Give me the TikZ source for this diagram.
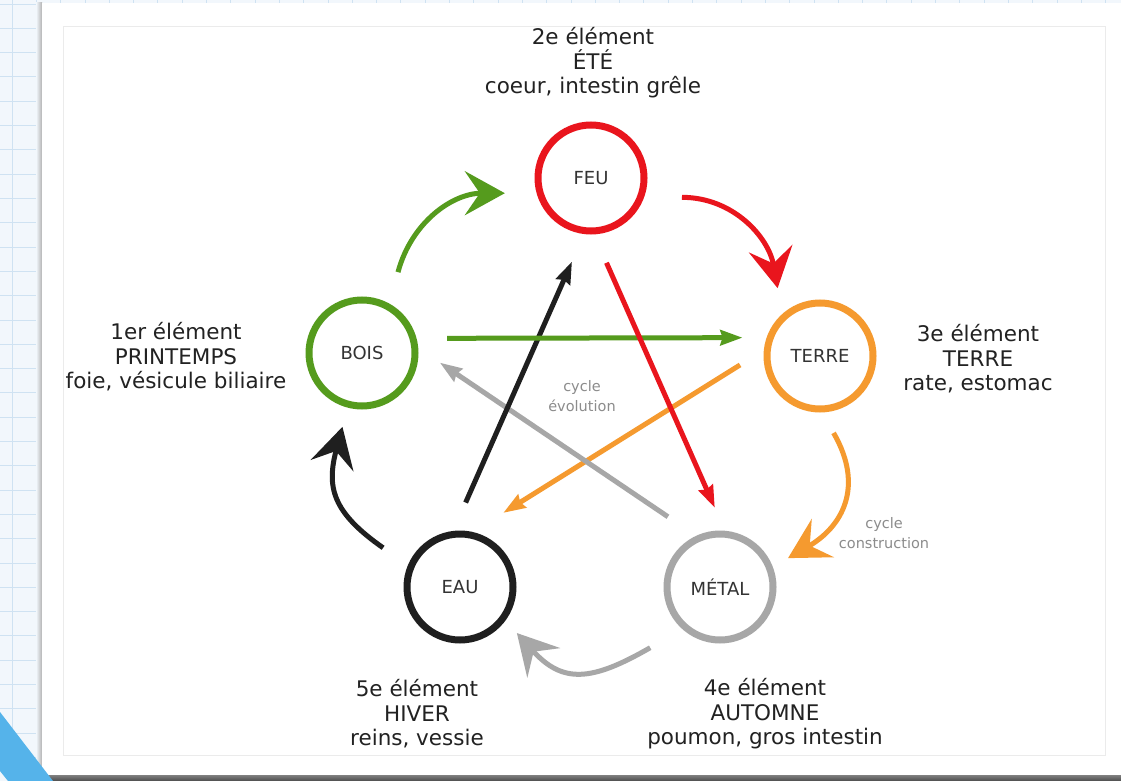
\documentclass[tikz,border=0pt]{standalone}
\usepackage{fontspec}
\setmainfont{DejaVu Sans}
\usetikzlibrary{arrows.meta,calc,positioning}

\definecolor{boisgreen}{HTML}{559B1D}
\definecolor{feured}{HTML}{E9151D}
\definecolor{terreorange}{HTML}{F59A2F}
\definecolor{metalgray}{HTML}{A7A7A7}
\definecolor{eaublack}{HTML}{1F1F1F}
\definecolor{gridbg}{HTML}{F2F7FC}
\definecolor{gridblue}{HTML}{CFE2F2}
\definecolor{cornerblue}{HTML}{55B3EA}
\definecolor{labelgray}{HTML}{222222}

\tikzset{
  element/.style={circle, draw=#1, line width=7pt, minimum size=106pt, inner sep=0pt,
    font=\fontsize{18}{20}\selectfont, text=black!80},
  season/.style={align=center, font=\fontsize{21.5}{24.5}\selectfont, text=labelgray},
  cyclename/.style={align=center, font=\fontsize{14.5}{20}\selectfont, text=black!45},
  outerarrow/.style={line width=5pt, -{Stealth[length=40pt,width=44pt,inset=15pt]}},
  innerarrow/.style={line width=5pt, -{Stealth[length=22pt,width=15pt,inset=2pt]}},
}

\begin{document}
\begin{tikzpicture}[x=1pt,y=-1pt]
        \useasboundingbox (0,0) rectangle (1121,781);
        % Draw grid paper
        \fill[gridbg] (0,0) rectangle (1121,781);
        \foreach \y in {4,28.3,...,781} {
            \draw[gridblue, line width=0.8pt] (0,\y) -- (1121,\y);
        }
        \foreach \x in {12,36.3,...,1121} {
            \draw[gridblue, line width=0.8pt] (\x,0) -- (\x,781);
        }
        % Card and shadows
        \shade[left color=gridbg, right color=black!30] (36,3) rectangle (42,775);
        \fill[white] (42,3) rectangle (1121,775);
        \shade[top color=black!50, bottom color=black!70] (42,775) rectangle (1121,781);
        \draw[black!8, line width=1pt] (63,27) rectangle (1105,755);
        \fill[cornerblue] (0,712) -- (53,781) -- (8,781) -- (0,771) -- cycle;

        % Elements
        \node[element=feured] (feu) at (591,178) {FEU};
        \node[element=boisgreen] (bois) at (362,353) {BOIS};
        \node[element=terreorange] (terre) at (820,356) {TERRE};
        \node[element=eaublack] (eau) at (460,587) {EAU};
        \node[element=metalgray] (metal) at (720,587) {MÉTAL};

        % Seasons
        \node[season] (ete) at (593,63) {2e élément\\ÉTÉ\\coeur, intestin grêle};
        \node[season] (printemps) at (176,357) {1er élément\\PRINTEMPS\\foie, vésicule biliaire};
        \node[season] (terrelabel) at (978,359) {3e élément\\TERRE\\rate, estomac};
        \node[season] (hiver) at (417,714) {5e élément\\HIVER\\reins, vessie};
        \node[season] (automne) at (765,714) {4e élément\\AUTOMNE\\poumon, gros intestin};

        \node[cyclename] (evolution) at (582,396) {cycle\\évolution};
        \node[cyclename] (construction) at (884,533) {cycle\\construction};

        % Star: cycle evolution
        \draw[innerarrow, terreorange, shorten <=28pt, shorten >=36pt] (terre.174) -- (eau.77);
        \draw[innerarrow, metalgray, shorten <=34pt, shorten >=26pt] (metal.115) -- (bois.5);
        \draw[innerarrow, eaublack, shorten <=31pt, shorten >=30pt] (eau.97) -- (feu.263);
        \draw[innerarrow, boisgreen, shorten <=30.5pt, shorten >=24pt] (bois.15) -- (terre.161);
        \draw[innerarrow, feured, shorten <=31pt, shorten >=25pt] (feu.273) -- (metal.85);

        % Ring: cycle construction
        \draw[outerarrow, boisgreen] ([shift={(66:32pt)}]bois.66)
            to[out=75, in=180] ([shift={(190:31pt)}]feu.190);
        \draw[outerarrow, feured] ([shift={(-12:36.5pt)}]feu.-12)
            to[out=0, in=100] ([shift={(122:23.5pt)}]terre.122);
        \draw[outerarrow, terreorange] ([shift={(-80:21.6pt)}]terre.-80)
            to[out=-60, in=30, looseness=1.2] ([shift={(23:17.4pt)}]metal.23);
        \draw[outerarrow, metalgray] ([shift={(221:36pt)}]metal.221)
            to[out=210, in=-48, looseness=1.3] ([shift={(-39:16.7pt)}]eau.-39);
        \draw[outerarrow, eaublack] ([shift={(153:29.8pt)}]eau.153)
            to[out=145, in=255, looseness=1.25] ([shift={(255.6:19.9pt)}]bois.255.6);
\end{tikzpicture}
\end{document}
